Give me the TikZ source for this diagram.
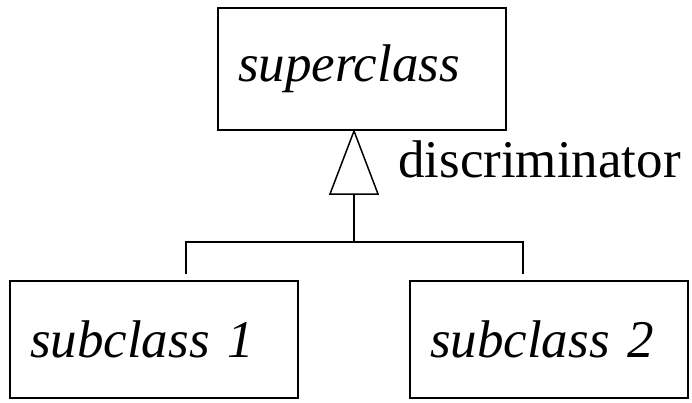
\documentclass[tikz,border=0pt]{standalone}
\usepackage{fontspec}
\setmainfont{Liberation Serif}
\usetikzlibrary{arrows.meta,positioning,calc}
\tikzset{
  classbox/.style={draw=black, line width=1.5pt, align=left, inner xsep=20pt, inner ysep=0pt, font=\fontsize{53}{60}\selectfont\itshape},
  genline/.style={draw=black, line width=1.5pt},
}

\begin{document}
\begin{tikzpicture}[x=1pt, y=-1pt]
    \useasboundingbox (0,0) rectangle (692,402);
    \node[classbox, text width=248pt, minimum height=122pt] (super) at (362,69) {superclass};
    \node[classbox, text width=248pt, minimum height=117pt] (sub1) at (154,339.5) {subclass 1};
    \node[classbox, text width=238pt, minimum height=117pt] (sub2) at (549,339.5) {subclass 2};
    \node[anchor=base west, inner sep=0pt, font=\fontsize{53}{60}\selectfont] (disc) at (398,177) {discriminator};
    % generalisation triangle and branches
    \coordinate (apex) at (354,131);
    \coordinate (triL) at (330,194);
    \coordinate (triR) at (378,194);
    \coordinate (stem) at (354,194);
    \coordinate (bar) at (354,242);
    \coordinate (leg1) at ($(sub1.north)+(32,-6)$);
    \coordinate (leg2) at ($(sub2.north)+(-26,-6)$);
    \draw[genline, line join=miter] (apex) -- (triR) -- (triL) -- cycle;
    \draw[genline] (stem) -- (bar);
    \draw[genline] (leg1) -- (leg1 |- bar) -- (leg2 |- bar) -- (leg2);
\end{tikzpicture}
\end{document}
